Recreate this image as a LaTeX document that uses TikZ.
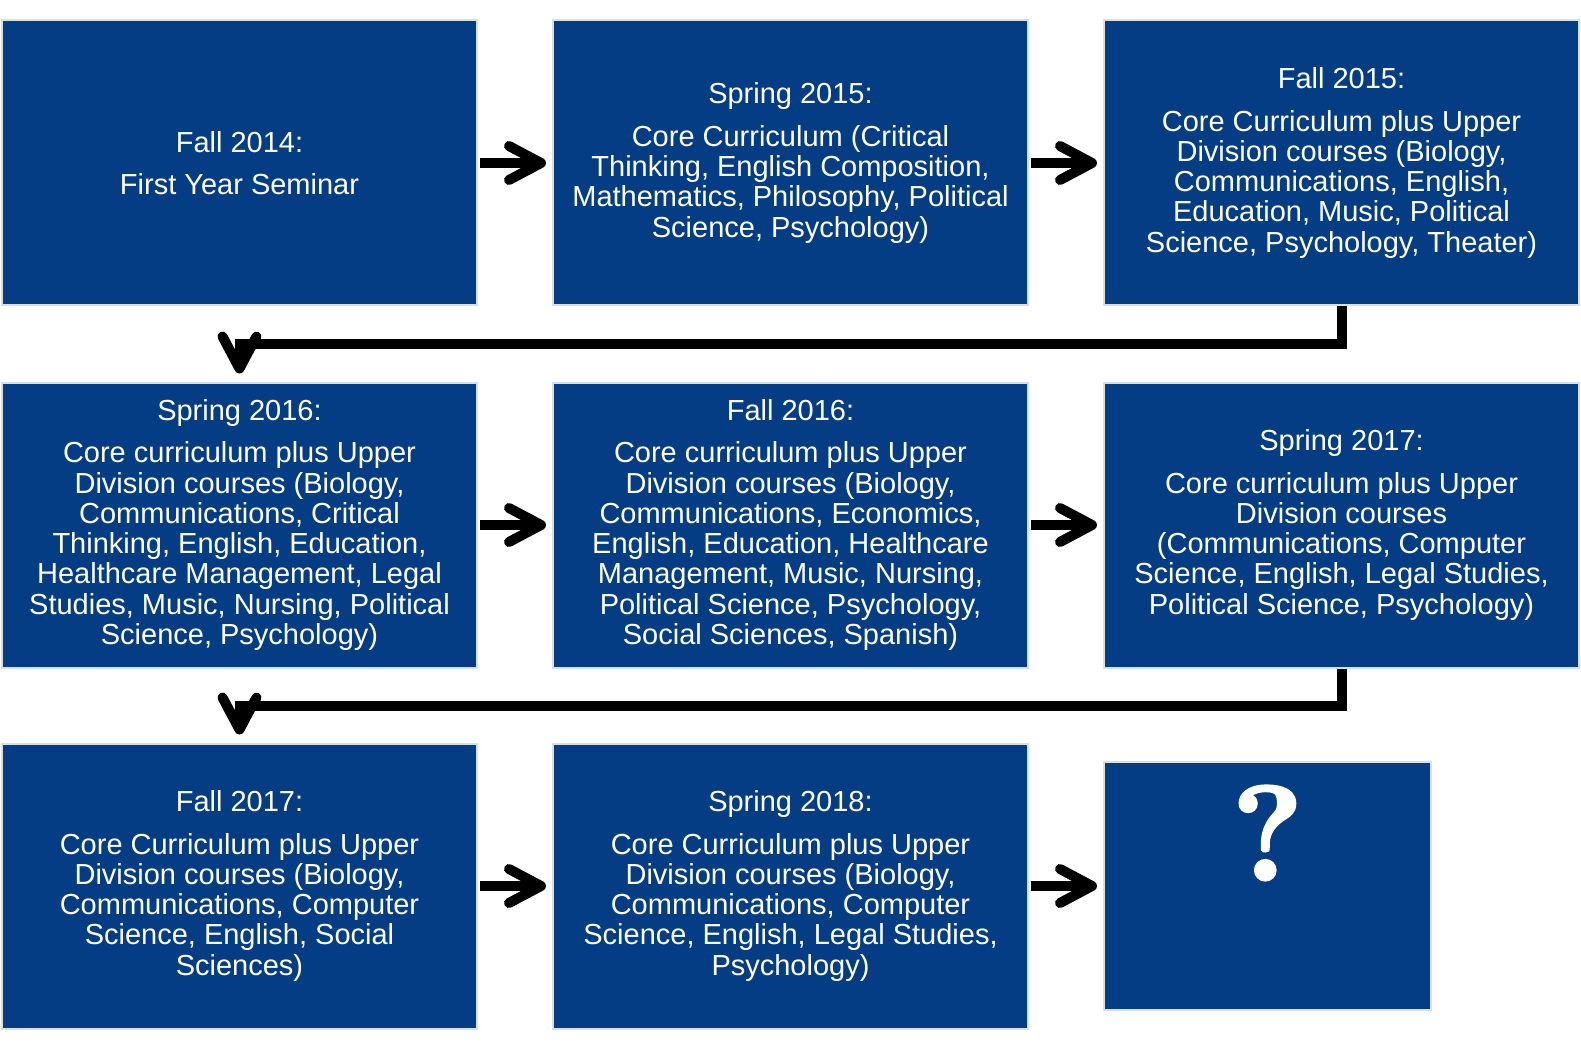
\documentclass[tikz,border=0pt]{standalone}
\usepackage{fontspec}
\newfontfamily\arialfont{Liberation Sans}
\newfontfamily\qfont[FakeBold=2.5]{Latin Modern Roman}
\usetikzlibrary{positioning,arrows.meta}
\definecolor{boxblue}{RGB}{5,61,133}
\definecolor{boxedge}{RGB}{218,222,230}
\tikzset{
	term/.style={draw=boxedge,line width=2pt,fill=boxblue,text=white,inner sep=0pt,
		minimum width=475pt,minimum height=285pt,align=center,
		font=\arialfont\fontsize{29}{30.3}\selectfont},
	flow/.style={line width=10pt,-{Straight Barb[length=32pt,width=34pt,round]}},
	qmark/.style={text=white,inner sep=0pt,font=\qfont\bfseries\fontsize{134}{134}\selectfont}
}
\begin{document}
\begin{tikzpicture}[x=1pt,y=-1pt,node distance=74pt]
			\useasboundingbox[fill=white] (0,0) rectangle (1581,1048);
			\node[term] (f14) at (239.5,163) {Fall 2014:\\[12pt]First Year Seminar};
			\node[term,right=of f14] (s15) {Spring 2015:\\[12pt]Core Curriculum (Critical\\Thinking, English Composition,\\Mathematics, Philosophy, Political\\Science, Psychology)};
			\node[term,right=of s15] (f15) {Fall 2015:\\[12pt]Core Curriculum plus Upper\\Division courses (Biology,\\Communications, English,\\Education, Music, Political\\Science, Psychology, Theater)};
			\node[term] (s16) at (239.5,525) {Spring 2016:\\[12pt]Core curriculum plus Upper\\Division courses (Biology,\\Communications, Critical\\Thinking, English, Education,\\Healthcare Management, Legal\\Studies, Music, Nursing, Political\\Science, Psychology)};
			\node[term,right=of s16] (f16) {Fall 2016:\\[12pt]Core curriculum plus Upper\\Division courses (Biology,\\Communications, Economics,\\English, Education, Healthcare\\Management, Music, Nursing,\\Political Science, Psychology,\\Social Sciences, Spanish)};
			\node[term,right=of f16] (s17) {Spring 2017:\\[12pt]Core curriculum plus Upper\\Division courses\\(Communications, Computer\\Science, English, Legal Studies,\\Political Science, Psychology)};
			\node[term] (f17) at (239.5,886) {Fall 2017:\\[12pt]Core Curriculum plus Upper\\Division courses (Biology,\\Communications, Computer\\Science, English, Social\\Sciences)};
			\node[term,right=of f17] (s18) {Spring 2018:\\[12pt]Core Curriculum plus Upper\\Division courses (Biology,\\Communications, Computer\\Science, English, Legal Studies,\\Psychology)};
			\node[term,right=of s18,minimum width=327pt,minimum height=248pt] (next) {};
			\node[qmark] (qm) at ([yshift=53pt]next.center) {?};
			\draw[flow,shorten <=2pt,shorten >=6pt] (f14) -- (s15);
			\draw[flow,shorten <=2pt,shorten >=6pt] (s15) -- (f15);
			\draw[flow,shorten <=2pt,shorten >=6pt] (s16) -- (f16);
			\draw[flow,shorten <=2pt,shorten >=6pt] (f16) -- (s17);
			\draw[flow,shorten <=2pt,shorten >=6pt] (f17) -- (s18);
			\draw[flow,shorten <=2pt,shorten >=6pt] (s18) -- (next);
			\draw[flow,shorten >=8pt] (f15.south) -- ++(0,37) -| (s16.north);
			\draw[flow,shorten >=8pt] (s17.south) -- ++(0,37) -| (f17.north);
		\end{tikzpicture}
\end{document}
